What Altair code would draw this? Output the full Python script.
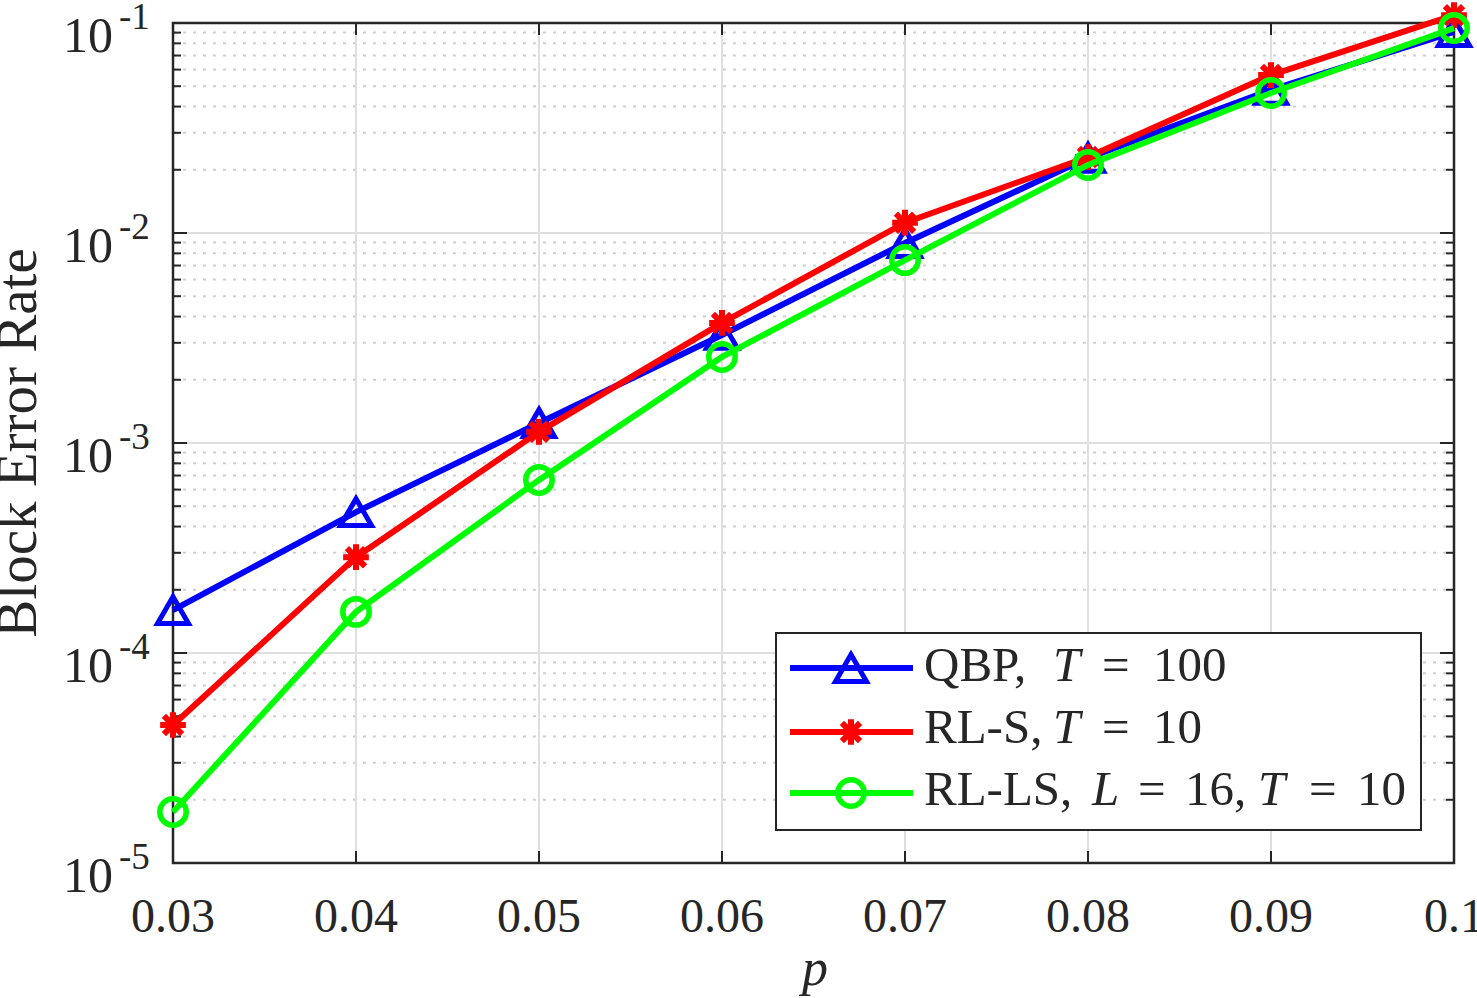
import altair as alt
import pandas as pd

# ---------------- data ----------------
p_values = [0.03, 0.04, 0.05, 0.06, 0.07, 0.08, 0.09, 0.10]
qbp_ber = [1.60e-4, 4.69e-4, 1.245e-3, 3.27e-3, 8.96e-3, 2.28e-2, 4.80e-2, 9.06e-2]
rls_ber = [4.54e-5, 2.86e-4, 1.13e-3, 3.73e-3, 1.12e-2, 2.30e-2, 5.65e-2, 1.09e-1]
rlls_ber = [1.75e-5, 1.57e-4, 6.67e-4, 2.57e-3, 7.43e-3, 2.11e-2, 4.64e-2, 9.46e-2]

x_tick_values = [0.03, 0.04, 0.05, 0.06, 0.07, 0.08, 0.09, 0.10]
x_tick_labels = ["0.03", "0.04", "0.05", "0.06", "0.07", "0.08", "0.09", "0.1"]
y_decades = [1e-5, 1e-4, 1e-3, 1e-2, 1e-1]
y_exponents = ["-5", "-4", "-3", "-2", "-1"]
y_minor = [k * d for d in [1e-5, 1e-4, 1e-3, 1e-2] for k in range(2, 10)]

# ---------------- layout / style ----------------
W, H = 1281, 840
FONT = "Liberation Serif"
AX = "#262626"
BLUE, RED, GREEN = "#0000ff", "#ff0000", "#00ff00"
ASTERISK = "M0,-1L0,1M-1,0L1,0M-0.71,-0.71L0.71,0.71M-0.71,0.71L0.71,-0.71"

xs = alt.Scale(domain=[0.03, 0.1], nice=False, zero=False)
ys = alt.Scale(type="log", domain=[1e-5, 1e-1], nice=False)


def X(f):
    return alt.X(f, type="quantitative", scale=xs, axis=None)


def Y(f):
    return alt.Y(f, type="quantitative", scale=ys, axis=None)


one = pd.DataFrame({"a": [0]})
layers = []

# minor dotted grid (y)
minor_df = pd.DataFrame({"v": y_minor})
layers.append(alt.Chart(minor_df).mark_rule(color="#cfcfcf", strokeWidth=2, strokeDash=[3, 7]).encode(
    y=Y("v"), x=alt.value(0), x2=alt.value(W)))
# major grid
dec_df = pd.DataFrame({"v": y_decades, "base": ["10"] * 5, "exp": y_exponents})
xt_df = pd.DataFrame({"p": x_tick_values, "lab": x_tick_labels})
layers.append(alt.Chart(dec_df).mark_rule(color="#dfdfdf", strokeWidth=2).encode(
    y=Y("v"), x=alt.value(0), x2=alt.value(W)))
layers.append(alt.Chart(xt_df).mark_rule(color="#dfdfdf", strokeWidth=2).encode(
    x=X("p"), y=alt.value(0), y2=alt.value(H)))

# frame
layers.append(alt.Chart(one).mark_rect(fillOpacity=0, stroke=AX, strokeWidth=2.5).encode(
    x=alt.value(0), x2=alt.value(W), y=alt.value(0), y2=alt.value(H)))

# inward ticks
layers.append(alt.Chart(dec_df).mark_rule(color=AX, strokeWidth=2).encode(
    y=Y("v"), x=alt.value(0), x2=alt.value(14)))
layers.append(alt.Chart(dec_df).mark_rule(color=AX, strokeWidth=2).encode(
    y=Y("v"), x=alt.value(W - 14), x2=alt.value(W)))
layers.append(alt.Chart(minor_df).mark_rule(color=AX, strokeWidth=2).encode(
    y=Y("v"), x=alt.value(0), x2=alt.value(8)))
layers.append(alt.Chart(minor_df).mark_rule(color=AX, strokeWidth=2).encode(
    y=Y("v"), x=alt.value(W - 8), x2=alt.value(W)))
layers.append(alt.Chart(xt_df).mark_rule(color=AX, strokeWidth=2).encode(
    x=X("p"), y=alt.value(H - 12), y2=alt.value(H)))
layers.append(alt.Chart(xt_df).mark_rule(color=AX, strokeWidth=2).encode(
    x=X("p"), y=alt.value(0), y2=alt.value(12)))

# tick labels
layers.append(alt.Chart(xt_df).mark_text(font=FONT, fontSize=48, color=AX, align="center",
                                         baseline="alphabetic").encode(
    x=X("p"), y=alt.value(H + 69), text="lab:N"))
layers.append(alt.Chart(dec_df).mark_text(font=FONT, fontSize=50, color=AX, align="right",
                                          baseline="alphabetic", dy=29).encode(
    y=Y("v"), x=alt.value(-60), text="base:N"))
layers.append(alt.Chart(dec_df).mark_text(font=FONT, fontSize=37, color=AX, align="left",
                                          baseline="alphabetic", dy=6).encode(
    y=Y("v"), x=alt.value(-54), text="exp:N"))

# axis titles
layers.append(alt.Chart(one).mark_text(font=FONT, fontSize=52, fontStyle="italic", color=AX,
                                       align="center", baseline="alphabetic", text="p").encode(
    x=alt.value(642), y=alt.value(962)))
layers.append(alt.Chart(one).mark_text(font=FONT, fontSize=57, color=AX, angle=270,
                                       align="center", baseline="alphabetic",
                                       text="Block Error Rate").encode(
    x=alt.value(-137), y=alt.value(420)))

# series
series = [
    (qbp_ber, BLUE, "triangle-up", 960, 5),
    (rls_ber, RED, ASTERISK, 660, 6),
    (rlls_ber, GREEN, "circle", 700, 5.5),
]
for vals, col, shp, sz, sw in series:
    d = pd.DataFrame({"p": p_values, "ber": vals})
    layers.append(alt.Chart(d).mark_line(color=col, strokeWidth=6).encode(x=X("p"), y=Y("ber")))
    layers.append(alt.Chart(d).mark_point(shape=shp, filled=False, color=col, size=sz,
                                          strokeWidth=sw, opacity=1).encode(x=X("p"), y=Y("ber")))

# legend
layers.append(alt.Chart(one).mark_rect(fill="white", stroke=AX, strokeWidth=2).encode(
    x=alt.value(603), x2=alt.value(1248), y=alt.value(610), y2=alt.value(807)))
leg_rows = [645, 709, 770]
for (vals, col, shp, sz, sw), ly in zip(series, leg_rows):
    layers.append(alt.Chart(one).mark_rule(color=col, strokeWidth=6).encode(
        x=alt.value(617), x2=alt.value(740), y=alt.value(ly)))
    layers.append(alt.Chart(one).mark_point(shape=shp, filled=False, color=col, size=sz,
                                            strokeWidth=sw, opacity=1).encode(
        x=alt.value(678), y=alt.value(ly)))


def txt(x, y, s, italic=False):
    kw = dict(font=FONT, fontSize=49, color=AX, align="left", baseline="alphabetic", text=s)
    if italic:
        kw["fontStyle"] = "italic"
    return alt.Chart(one).mark_text(**kw).encode(x=alt.value(x), y=alt.value(y))


b1, b2, b3 = 658, 720, 782
layers += [
    txt(751, b1, "QBP,"), txt(880, b1, "T", True), txt(929, b1, "="), txt(980, b1, "100"),
    txt(751, b2, "RL-S,"), txt(880, b2, "T", True), txt(929, b2, "="), txt(980, b2, "10"),
    txt(751, b3, "RL-LS,"), txt(919, b3, "L", True), txt(965, b3, "="), txt(1012, b3, "16,"),
    txt(1085, b3, "T", True), txt(1136, b3, "="), txt(1184, b3, "10"),
]

chart = alt.layer(*layers).properties(
    width=W, height=H,
    autosize=alt.AutoSizeParams(type="none"),
    padding={"left": 173, "top": 23, "right": 23, "bottom": 135},
    background="white",
).configure_view(stroke=None)

chart.save("out.html", embed_options={"renderer": "svg", "actions": False})
